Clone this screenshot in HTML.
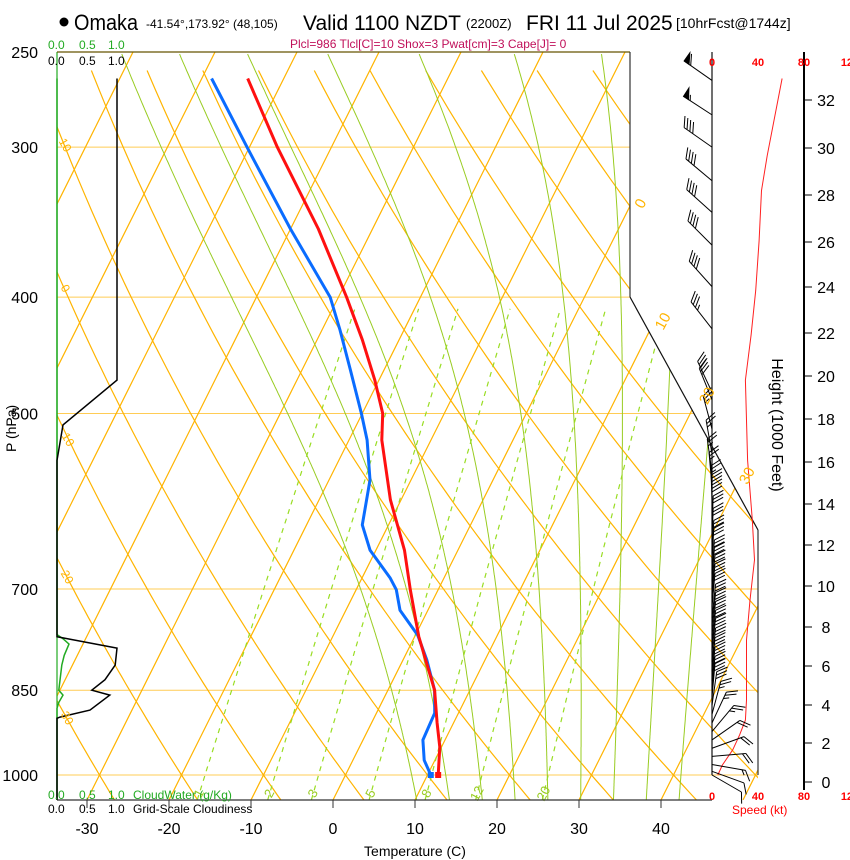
<!DOCTYPE html>
<html><head><meta charset="utf-8"><style>
html,body{margin:0;padding:0;background:#fff;}
svg{display:block;font-family:"Liberation Sans",sans-serif;}
</style></head><body>
<svg id="chart" width="850" height="860" viewBox="0 0 850 860" xmlns="http://www.w3.org/2000/svg">
<defs><clipPath id="plotClip"><polygon points="57,52 630,52 630,297 758,530 758,800 57,800"/></clipPath></defs>
<g>
<circle cx="64" cy="22" r="4.5" fill="#000"/>
<text x="74" y="30" font-size="22" textLength="64" lengthAdjust="spacingAndGlyphs">Omaka</text>
<text x="146" y="28" font-size="12">-41.54°,173.92° (48,105)</text>
<text x="303" y="30" font-size="21">Valid 1100 NZDT</text>
<text x="466" y="28" font-size="13">(2200Z)</text>
<text x="526" y="30" font-size="21">FRI 11 Jul 2025</text>
<text x="676" y="28" font-size="14">[10hrFcst@1744z]</text>
<text x="290" y="48" font-size="12" fill="#c0105a">Plcl=986 Tlcl[C]=10 Shox=3 Pwat[cm]=3 Cape[J]= 0</text>
</g>
<g id="grid" clip-path="url(#plotClip)"></g>
<g id="profiles" clip-path="url(#plotClip)"></g>
<g id="overlay"></g>
</svg>
<script>
// ---- data ----
const tempP  = [1000,948,905,850,767,701,650,590,526,500,469,434,400,351,300,263];
const tempT  = [11.3,9.8,8.0,5.7,0.5,-3.4,-6.5,-11.3,-16.0,-17.5,-20.5,-24.5,-29.0,-36.6,-46.6,-54.4];
const dewP   = [1000,972,935,888,850,802,765,729,701,685,650,619,568,526,500,460,426,400,351,300,263];
const dewT   = [10.4,8.7,7.3,7.1,5.7,2.9,0.3,-3.4,-5.1,-6.6,-10.7,-13.2,-15.0,-17.8,-20.1,-24.1,-27.8,-31.0,-40.0,-50.3,-58.8];
const pressureTicks = [250,300,400,500,700,850,1000];
const tempTicks = [-30,-20,-10,0,10,20,30,40];
const mixRatios = [1,2,3,5,8,12,20];
const moistStartT = [10.2,14.2,18.2,22.2,26.2,30.2,34.2,38.2,42.2];
const heightTicks = [0,2,4,6,8,10,12,14,16,18,20,22,24,26,28,30,32];
const heightY = [782,743,705,666,627,586,545,504,462,419,376,333,287,242,195,148,100];
const speedP = [263,305,326,359,395,430,469,547,613,662,715,772,866,900,926,953,981,1000];
const speedKt= [61,48,43,41,38,34,29,31,35,37,33,30,30,29,24,18,9,5];
const barbP  = [264,282,300,320,340,362,392,425,480,487,515,540,560,575,590,600,612,625,640,655,665,680,690,700,712,725,740,752,765,778,790,805,820,835,850,862,875,890,905,920,935,950,965,980,993,1000];
const barbDir= [305,303,305,310,312,315,318,322,335,338,345,350,352,355,358,360,360,2,2,3,3,4,4,5,5,5,6,6,6,6,6,6,5,5,5,5,8,15,25,40,55,70,85,100,110,120];
const barbSpd= [58,55,40,40,40,40,40,35,30,30,25,25,25,25,25,30,30,30,30,30,30,30,30,30,30,30,30,30,30,30,30,30,30,30,30,30,30,25,25,25,20,20,20,15,10,10];
const cloudP = [263,469,511,547,600,640,767,784,810,833,850,858,883,895,897,960,1049];
const cloudF = [1.0,1.0,0.1,0.0,0.0,0.0,0.0,1.0,0.97,0.8,0.58,0.88,0.55,0.05,0.0,0.0,0.0];
const cwP    = [263,764,770,778,795,810,850,858,870,880,1049];
const cwV    = [0,0,0.1,0.2,0.12,0.08,0.03,0.1,0.03,0,0];

// ---- axes ----
const SVGNS="http://www.w3.org/2000/svg";
function yP(p){return 775-521.5*Math.log(1000/p);}
function xT(T,p){return 333+8.2*T+0.5*(800-yP(p));}
function xSpd(s){return 712+s*46/40;}
function xCloud(f){return 57+f*60;}
function mk(tag,attrs,parent){const e=document.createElementNS(SVGNS,tag);for(const k in attrs)e.setAttribute(k,attrs[k]);parent.appendChild(e);return e;}
const grid=document.getElementById('grid'), prof=document.getElementById('profiles'), ov=document.getElementById('overlay');
const ORANGE="#ffb400", GREEN="#99cc22";
function pathFrom(pts){return pts.map((q,i)=>(i?'L':'M')+q[0].toFixed(1)+','+q[1].toFixed(1)).join('');}

pressureTicks.forEach(p=>{
  const ln=mk('line',{x1:57,x2:758,y1:yP(p),y2:yP(p),stroke:"#ffcc55",'stroke-width':1},grid);
  
  
});
for(let T=-140;T<=60;T+=10){
  const l=mk('line',{x1:xT(T,1049),y1:yP(1049),x2:xT(T,250),y2:yP(250),stroke:ORANGE,'stroke-width':1.2},grid);
  
  
}
for(let th=-40;th<=160;th+=10){
  const pts=[];for(let p=1049;p>=250;p-=10){const T=(th+273.15)*Math.pow(p/1000,0.286)-273.15;pts.push([xT(T,p),yP(p)]);}
  const d=mk('path',{d:pathFrom(pts),fill:'none',stroke:ORANGE,'stroke-width':1.2},grid);
  
  
}
function es(Tc){return 6.112*Math.exp(17.67*Tc/(Tc+243.5));}
moistStartT.forEach(t0=>{
  let T=t0+273.15;const pts=[];
  for(let p=1049;p>=250;p-=2){
    pts.push([xT(T-273.15,p),yP(p)]);
    const e=es(T-273.15),rs=0.622*e/(p-e);
    const dTdp=(287*T+2.5e6*rs)/(p*(1004+2.5e6*2.5e6*rs*0.622/(287*T*T)));
    T-=dTdp*2;
  }
  const m=mk('path',{d:pathFrom(pts),fill:'none',stroke:GREEN,'stroke-width':1},grid);
  
  
});
mixRatios.forEach(w=>{
  const pts=[];for(let p=1049;p>=400;p-=10){const e=w*p/(622+w);const L=Math.log(e/6.112);const Td=243.5*L/(17.67-L);pts.push([xT(Td,p),yP(p)]);}
  const m=mk('path',{d:pathFrom(pts),fill:'none',stroke:"#99dd22",'stroke-width':1.2,'stroke-dasharray':'5,5'},grid);
  
  
  const e=w*1040/(622+w),L=Math.log(e/6.112),Td=243.5*L/(17.67-L);
  const tx=xT(Td,1040)+4,ty=yP(1040);
  const t=mk('text',{x:tx,y:ty,'font-size':13,fill:"#99cc22",transform:`rotate(-62 ${tx} ${ty})`,'text-anchor':'middle'},ov);
  t.textContent=w;
  
  
});
function prof_line(P,T,col,name){
  const pts=P.map((p,i)=>[xT(T[i],p),yP(p)]);
  const l=mk('path',{d:pathFrom(pts),fill:'none',stroke:col,'stroke-width':3,'stroke-linejoin':'round'},prof);
  
  
  const r=mk('rect',{x:pts[0][0]-3,y:pts[0][1]-3,width:6,height:6,fill:col},prof);
  
  
}
prof_line(dewP,dewT,"#0a6cff",'dewpoint-profile');
prof_line(tempP,tempT,"#ff1010",'temperature-profile');

[[57,52,57,800,"#22aa22"],[57,52,630,52,"#665500"],[630,52,630,297,"#333"],[630,297,758,530,"#111"],[758,530,758,775,"#333"],[57,800,712,800,"#333"],[712,52,712,775,"#111"],[804,52,804,790,"#000"]].forEach((s,i)=>{
  const l=mk('line',{x1:s[0],y1:s[1],x2:s[2],y2:s[3],stroke:s[4],'stroke-width':i==7?2:1.2},ov);
  
  
});
{
  const g=mk('path',{d:pathFrom(cwP.map((p,i)=>[xCloud(cwV[i]),yP(p)])),fill:'none',stroke:'#22aa22','stroke-width':1.5},ov);
  
  
  const c=mk('path',{d:pathFrom(cloudP.map((p,i)=>[xCloud(cloudF[i]),yP(p)])),fill:'none',stroke:'#000','stroke-width':1.5},ov);
  
  
}
pressureTicks.forEach(p=>{
  const t=mk('text',{x:38,y:yP(p)+6,'font-size':16,'text-anchor':'end'},ov);t.textContent=p;
  
  
});
tempTicks.forEach(T=>{
  const x=333+8.2*T;
  const tk=mk('line',{x1:x,x2:x,y1:800,y2:808,stroke:'#333'},ov);
  
  
  const t=mk('text',{x:x,y:834,'font-size':16,'text-anchor':'middle'},ov);t.textContent=T;
  
  
});
heightTicks.forEach((h,i)=>{
  const tk=mk('line',{x1:804,x2:812,y1:heightY[i],y2:heightY[i],stroke:'#000'},ov);
  
  
  const t=mk('text',{x:826,y:heightY[i]+6,'font-size':16,'text-anchor':'middle'},ov);t.textContent=h;
  
  
});
{
  const s=mk('path',{d:pathFrom(speedP.map((p,i)=>[xSpd(speedKt[i]),yP(p)])),fill:'none',stroke:'#ff2020','stroke-width':1},ov);
  
  
}
barbP.forEach((p,i)=>{
  const y=yP(p),x=712,L=34,a=barbDir[i]*Math.PI/180;
  const ux=Math.sin(a),uy=-Math.cos(a);
  const ex=x+ux*L,ey=y+uy*L;
  const g=mk('g',{stroke:'#000','stroke-width':1,fill:'#000'},ov);
  
  
  mk('line',{x1:x,y1:y,x2:ex,y2:ey},g);
  let s=Math.round(barbSpd[i]/5)*5,pos=0;
  const px=-uy,py=ux;
  while(s>=50){const bx=ex-ux*pos,by=ey-uy*pos;mk('polygon',{points:`${bx},${by} ${bx+px*10},${by+py*10} ${bx-ux*6},${by-uy*6}`},g);pos+=8;s-=50;}
  while(s>=10){const bx=ex-ux*pos,by=ey-uy*pos;mk('line',{x1:bx,y1:by,x2:bx+px*10+ux*6,y2:by+py*10+uy*6},g);pos+=3.5;s-=10;}
  if(s>=5){const bx=ex-ux*pos,by=ey-uy*pos;mk('line',{x1:bx,y1:by,x2:bx+px*5+ux*3,y2:by+py*5+uy*3},g);}
});
</script>
<svg style="position:absolute;left:0;top:0" width="850" height="860">
<g font-family="Liberation Sans, sans-serif">
<text x="4" y="440" font-size="14" transform="rotate(-90 16 440)">P (hPa)</text>
<text x="415" y="856" font-size="14" text-anchor="middle">Temperature (C)</text>
<text x="772" y="425" font-size="16" text-anchor="middle" transform="rotate(90 772 425)">Height (1000 Feet)</text>
<g fill="#22aa22" font-size="12"><text x="48" y="49">0.0</text><text x="79" y="49">0.5</text><text x="108" y="49">1.0</text></g>
<g fill="#000" font-size="12"><text x="48" y="65">0.0</text><text x="79" y="65">0.5</text><text x="108" y="65">1.0</text></g>
<g fill="#22aa22" font-size="12"><text x="48" y="799">0.0</text><text x="79" y="799">0.5</text><text x="108" y="799">1.0</text><text x="133" y="799">CloudWater (g/Kg)</text></g>
<g fill="#000" font-size="12"><text x="48" y="813">0.0</text><text x="79" y="813">0.5</text><text x="108" y="813">1.0</text><text x="133" y="813">Grid-Scale Cloudiness</text></g>
<g fill="#ff0000" font-size="11" font-weight="bold" text-anchor="middle"><text x="712" y="66">0</text><text x="758" y="66">40</text><text x="804" y="66">80</text><text x="850" y="66">120</text></g>
<g fill="#ff0000" font-size="11" font-weight="bold" text-anchor="middle"><text x="712" y="800">0</text><text x="758" y="800">40</text><text x="804" y="800">80</text><text x="850" y="800">120</text></g>
<text x="732" y="814" fill="#ff0000" font-size="12">Speed (kt)</text>
<g fill="#ffb400" font-size="15">
<text x="633" y="207" transform="rotate(-62 640 200)">0</text>
<text x="652" y="328" transform="rotate(-62 660 320)">10</text>
<text x="697" y="402" transform="rotate(-62 705 395)">20</text>
<text x="737" y="482" transform="rotate(-62 745 475)">30</text>
</g>
<g fill="#ffb400" font-size="12">
<text x="58" y="148" transform="rotate(60 64 145)">10</text>
<text x="60" y="292" transform="rotate(60 64 290)">0</text>
<text x="60" y="442" transform="rotate(60 66 440)">10</text>
<text x="60" y="580" transform="rotate(60 66 577)">20</text>
<text x="60" y="721" transform="rotate(60 66 718)">30</text>
</g>
</g></svg>
</body></html>
